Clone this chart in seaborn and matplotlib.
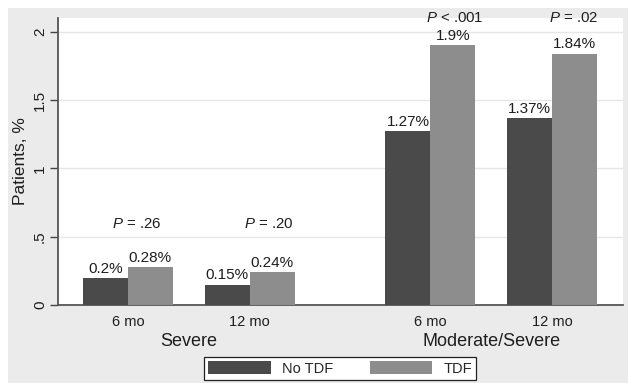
import matplotlib
matplotlib.use("Agg")
import matplotlib.pyplot as plt
from matplotlib.patches import Rectangle
import matplotlib.transforms as mtransforms
import seaborn as sns
import pandas as pd

# ---- data ----
severity = ["Severe", "Severe", "Moderate/Severe", "Moderate/Severe"]
period = ["6 mo", "12 mo", "6 mo", "12 mo"]
no_tdf = [0.20, 0.15, 1.27, 1.37]
tdf = [0.28, 0.24, 1.90, 1.84]
p_labels = ["$P$ = .26", "$P$ = .20", "$P$ < .001", "$P$ = .02"]
treatments = ["No TDF", "TDF"]
group_names = ["Severe", "Moderate/Severe"]

# ---- layout constants ----
GROUP_GAP = 1.484
PAIR_WIDTH = 0.738
P_LABEL_Y = {"Severe": 0.59, "Moderate/Severe": 2.10}
P_OFFSET = [0.07, 0.16, 0.20, 0.18]

sns.set_style("white")
plt.rcParams["font.family"] = ["Liberation Sans", "DejaVu Sans"]
plt.rcParams["mathtext.fontset"] = "custom"
plt.rcParams["mathtext.it"] = "Liberation Sans:italic"
plt.rcParams["mathtext.rm"] = "Liberation Sans"

positions = []
prev = None
for s in severity:
    if prev is None:
        positions.append(0.0)
    elif s == prev:
        positions.append(positions[-1] + 1.0)
    else:
        positions.append(positions[-1] + GROUP_GAP)
    prev = s

rows = []
for i in range(len(period)):
    rows.append({"pos": positions[i], "value": no_tdf[i], "treat": treatments[0]})
    rows.append({"pos": positions[i], "value": tdf[i], "treat": treatments[1]})
df = pd.DataFrame(rows)

TXT = "#1e1e1e"
fig = plt.figure(figsize=(6.28, 3.83), dpi=100, facecolor="white")
fig.patches.append(Rectangle((8 / 628, 0), 1 - 8 / 628, 1 - 8 / 383,
                             transform=fig.transFigure, facecolor="#ebebeb",
                             edgecolor="none", zorder=-10))
ax = fig.add_axes([58 / 628, 1 - 305 / 383, (623 - 58) / 628, (305 - 18) / 383])
ax.set_facecolor("white")

sns.barplot(data=df, x="pos", y="value", hue="treat", hue_order=treatments,
            native_scale=True, width=PAIR_WIDTH, palette=["#4a4a4a", "#8d8d8d"],
            saturation=1, errorbar=None, ax=ax, linewidth=0, zorder=3)

handles, labels = ax.get_legend_handles_labels()
if ax.get_legend() is not None:
    ax.get_legend().remove()

for cont in ax.containers:
    ax.bar_label(cont, labels=[f"{b.get_height():g}%" for b in cont],
                 padding=1.5, fontsize=11, color=TXT)

for i, pl in enumerate(p_labels):
    ax.text(positions[i] + P_OFFSET[i], P_LABEL_Y[severity[i]], pl,
            ha="center", va="center", fontsize=10.8, color=TXT, clip_on=False)

ax.set_xlim(positions[0] - 0.574, positions[-1] + 0.582)
ax.set_ylim(0, 2.1)
ax.set_yticks([0, 0.5, 1, 1.5, 2])
ax.set_yticklabels(["0", ".5", "1", "1.5", "2"], rotation=90, va="center")
ax.set_xticks(positions)
ax.set_xticklabels(period)
ax.tick_params(axis="x", length=0, pad=7, labelsize=10.5, colors=TXT)
ax.tick_params(axis="y", length=6, width=1, pad=2, labelsize=11,
               colors="#444444", labelcolor=TXT, left=True)
ax.set_xlabel("")
ax.set_ylabel("Patients, %", fontsize=12.5, color=TXT)
ax.yaxis.set_label_coords(-0.053, 0.5)

for y in [0.5, 1, 1.5, 2]:
    ax.axhline(y, color="#e6e6e6", linewidth=1.0, zorder=1)

for side in ["top", "right"]:
    ax.spines[side].set_visible(False)
for side in ["left", "bottom"]:
    ax.spines[side].set_color("#555555")
    ax.spines[side].set_linewidth(1.3)

trans = mtransforms.blended_transform_factory(ax.transData, ax.transAxes)
for g in group_names:
    ps = [positions[i] for i in range(len(severity)) if severity[i] == g]
    ax.text(sum(ps) / len(ps), -37 / 287, g, transform=trans, ha="center",
            va="center", fontsize=13, color=TXT)

leg = fig.legend(handles, labels, ncol=2, loc="center",
                 bbox_to_anchor=(340 / 628, 1 - 368.5 / 383), fontsize=10.5,
                 handlelength=4.3, handleheight=0.95, handletextpad=0.75,
                 columnspacing=2.5, borderpad=0.3, fancybox=False,
                 frameon=True, edgecolor="#222222", framealpha=1)
leg.get_frame().set_linewidth(0.9)
leg.get_frame().set_facecolor("white")

fig.savefig("out.png", dpi=100, facecolor=fig.get_facecolor())
